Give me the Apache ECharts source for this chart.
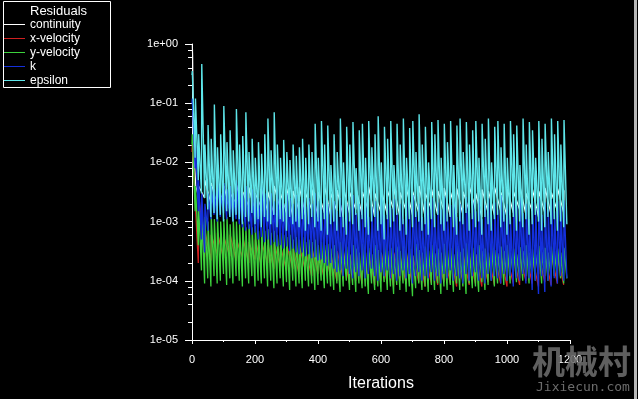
<!DOCTYPE html>
<html>
<head>
<meta charset="utf-8">
<script src="https://cdn.jsdelivr.net/npm/echarts@6/dist/echarts.min.js"></script>
<style>
html,body{margin:0;padding:0;background:#000;}
#c{width:638px;height:399px;}
</style>
</head>
<body>
<div id="c"></div>
<script>
// ---- data ----
const seriesNames = ['continuity', 'x-velocity', 'y-velocity', 'k', 'epsilon'];
const xTicks = [0, 200, 400, 600, 800, 1000, 1200];
const yMinorTicks = [8e-1,6e-1,4e-1,2e-1, 8e-2,6e-2,4e-2,2e-2, 8e-3,6e-3,4e-3,2e-3, 8e-4,6e-4,4e-4,2e-4, 8e-5,6e-5,4e-5,2e-5];

// spike trains: trough at iteration period*i, peak at period*i+1
const epsPeriod = 10;
const epsHigh = [0.35,0.12,0.03,0.46,0.02,0.043,0.025,0.095,0.018,0.03,
0.09,0.022,0.035,0.016,0.08,0.02,0.028,0.07,0.015,0.025,
0.012,0.022,0.014,0.03,0.055,0.016,0.07,0.02,0.012,0.024,
0.015,0.011,0.02,0.013,0.018,0.025,0.012,0.02,0.015,
0.045,0.012,0.05,0.02,0.042,0.009,0.03,0.015,0.055,0.01,0.04,
0.02,0.048,0.008,0.035,0.045,0.012,0.05,0.018,0.03,0.06,
0.01,0.04,0.025,0.05,0.009,0.045,0.02,0.055,0.012,0.038,
0.05,0.015,0.065,0.02,0.04,0.01,0.048,0.03,0.052,0.012,
0.045,0.022,0.05,0.009,0.042,0.055,0.015,0.048,0.02,0.035,
0.05,0.012,0.045,0.025,0.055,0.01,0.04,0.05,0.018,0.045,
0.012,0.05,0.03,0.042,0.009,0.055,0.02,0.048,0.035,0.012,
0.05,0.025,0.045,0.015,0.055,0.03,0.05,0.02,0.052];
const epsLow = [0.3,0.012,0.005,0.003,0.0025,
1.6e-3,1.2e-3,1.4e-3,1.1e-3,1.3e-3,1.0e-3,1.5e-3,1.2e-3,1.0e-3,1.3e-3,
1.1e-3,9e-4,1.2e-3,1.0e-3,1.4e-3,9e-4,1.1e-3,8e-4,1.2e-3,1.0e-3,
9e-4,1.3e-3,8e-4,1.1e-3,1.0e-3,7e-4,1.2e-3,9e-4,1.0e-3,8e-4,
1.1e-3,7e-4,9e-4,1.2e-3,8e-4,1.0e-3,7e-4,1.1e-3,6e-4,9e-4,
1.0e-3,7e-4,1.2e-3,8e-4,6e-4,1.0e-3,9e-4,1.3e-3,7e-4,1.1e-3,
8e-4,6e-4,1.0e-3,1.2e-3,7e-4,9e-4,5e-4,1.1e-3,8e-4,1.0e-3,
1.3e-3,7e-4,9e-4,6e-4,1.1e-3,8e-4,1.2e-3,1.0e-3,7e-4,9e-4,
6e-4,1.1e-3,8e-4,1.3e-3,9e-4,7e-4,1.0e-3,1.2e-3,8e-4,6e-4,
1.0e-3,9e-4,1.4e-3,7e-4,1.1e-3,8e-4,1.0e-3,6e-4,1.2e-3,9e-4,
7e-4,1.1e-3,1.3e-3,8e-4,1.0e-3,6e-4,9e-4,1.2e-3,7e-4,1.0e-3,
8e-4,1.1e-3,6e-4,9e-4,1.3e-3,1.0e-3,7e-4,8e-4,1.2e-3,9e-4,
1.1e-3,7e-4,1.0e-3,8e-4,9e-4];

const kPeriod = 10;
const kHigh = [0.12,0.02,5e-3,3e-3,2e-3,
3e-3,4e-3,3.5e-3,5e-3,3e-3,4.5e-3,3.5e-3,4e-3,3e-3,5e-3,
3.5e-3,3e-3,4e-3,2.5e-3,3.5e-3,3e-3,2.5e-3,4e-3,3e-3,2.5e-3,
3e-3,2.2e-3,3.5e-3,2.5e-3,2e-3,3e-3,2.5e-3,2e-3,2.8e-3,2.2e-3,
2.5e-3,1.8e-3,2.5e-3,2e-3,3e-3,2.2e-3,1.8e-3,2.5e-3,2e-3,1.6e-3,
2.2e-3,1.5e-3,2.5e-3,1.2e-3,2e-3,1.8e-3,2.8e-3,1.4e-3,2e-3,1.6e-3,
2.5e-3,1.2e-3,1.8e-3,2.2e-3,1.5e-3,2.6e-3,1.3e-3,2e-3,1.7e-3,2.4e-3,
1.4e-3,2e-3,1.1e-3,2.3e-3,1.6e-3,2.8e-3,1.5e-3,2e-3,1.2e-3,2.2e-3,
1.8e-3,2.5e-3,1.3e-3,2.1e-3,1.6e-3,2.7e-3,1.4e-3,1.9e-3,2.3e-3,1.2e-3,
2e-3,1.7e-3,2.6e-3,1.4e-3,2.2e-3,1.5e-3,2.4e-3,1.1e-3,1.9e-3,2.5e-3,
1.3e-3,2.1e-3,1.6e-3,2.8e-3,1.5e-3,2e-3,1.2e-3,2.3e-3,1.8e-3,2.6e-3,
1.4e-3,2e-3,1.1e-3,2.2e-3,1.7e-3,2.5e-3,1.3e-3,2.1e-3,1.6e-3,2.4e-3,
1.5e-3,2.2e-3,1.8e-3,2.3e-3];
const kLow = [0.1,0.008,1.5e-3,5e-4,3e-4,7e-4,
1.1e-3,1.3e-3,1.0e-3,1.2e-3,1.4e-3,1.1e-3,1.2e-3,1.0e-3,1.1e-3,9e-4,
8e-4,7e-4,7.5e-4,6e-4,6.5e-4,5e-4,5.5e-4,4.5e-4,5e-4,4e-4,
4.5e-4,3.8e-4,4e-4,3.5e-4,3.8e-4,3.2e-4,3.5e-4,3e-4,2.8e-4,3e-4,
2.6e-4,2.8e-4,2.4e-4,2.5e-4,2.2e-4,2.3e-4,2e-4,1.8e-4,2e-4,1.6e-4,
1.4e-4,1.5e-4,1.2e-4,1.6e-4,1.3e-4,1.1e-4,1.4e-4,1.2e-4,1.5e-4,1.1e-4,
1.3e-4,1.6e-4,1.2e-4,1.0e-4,1.4e-4,1.2e-4,1.5e-4,1.1e-4,1.3e-4,1.0e-4,
1.2e-4,1.5e-4,1.1e-4,1.3e-4,9e-5,1.2e-4,1.4e-4,1.0e-4,1.2e-4,1.1e-4,
1.4e-4,1.0e-4,1.2e-4,9e-5,1.3e-4,1.1e-4,1.5e-4,1.0e-4,1.2e-4,1.1e-4,
9e-5,1.3e-4,1.0e-4,1.2e-4,1.4e-4,1.0e-4,1.1e-4,9e-5,1.3e-4,1.0e-4,
1.2e-4,1.1e-4,9e-5,1.3e-4,1.0e-4,1.2e-4,8e-5,1.1e-4,1.0e-4,1.3e-4,
9e-5,1.1e-4,7e-5,1.0e-4,6e-5,1.2e-4,6.5e-5,1.0e-4,8e-5,1.1e-4,
9e-5,1.2e-4,1.0e-4,1.1e-4];

const yvPeriod = 10;
const yvHigh = [0.03,4e-3,2e-3,1.5e-3,
1.2e-3,1.0e-3,1.3e-3,1.1e-3,1.2e-3,1.0e-3,1.1e-3,1.2e-3,9e-4,1.1e-3,
1.0e-3,9e-4,1.0e-3,8e-4,9e-4,8e-4,8.5e-4,7e-4,8e-4,7e-4,
7.5e-4,6.5e-4,7e-4,6e-4,6.5e-4,6e-4,5.5e-4,6e-4,5e-4,5.5e-4,
5e-4,5.5e-4,4.5e-4,5e-4,4.5e-4,5e-4,4e-4,4.5e-4,4e-4,4.2e-4,
3.5e-4,4e-4,3e-4,4.5e-4,3.2e-4,3.8e-4,2.8e-4,4e-4,3.5e-4,3e-4,
4.2e-4,3e-4,3.6e-4,2.8e-4,4e-4,3.3e-4,3e-4,4.5e-4,3.2e-4,3.6e-4,
2.8e-4,3.8e-4,3.2e-4,4e-4,3e-4,3.5e-4,2.7e-4,4.2e-4,3.3e-4,3e-4,
3.8e-4,3.2e-4,4e-4,2.9e-4,3.5e-4,3e-4,4.2e-4,3.3e-4,3.6e-4,2.8e-4,
3.9e-4,3.1e-4,3.5e-4,4.3e-4,3e-4,3.6e-4,2.8e-4,4e-4,3.2e-4,3.5e-4,
3e-4,4.1e-4,3.3e-4,2.9e-4,3.8e-4,3.2e-4,4e-4,3e-4,3.5e-4,2.8e-4,
3.7e-4,3.2e-4,4e-4,3e-4,3.4e-4,2.8e-4,3.9e-4,3.1e-4,3.6e-4,3e-4,
3.8e-4,3.2e-4,3.5e-4,3e-4,3.6e-4];
const yvLow = [0.02,1.5e-3,4e-4,1.5e-4,9e-5,
1.1e-4,8e-5,1.2e-4,9e-5,1.0e-4,1.3e-4,8.5e-5,1.1e-4,9e-5,1.2e-4,
1.0e-4,8e-5,1.1e-4,9e-5,1.2e-4,8e-5,1.0e-4,9e-5,1.1e-4,8e-5,
1.0e-4,7.5e-5,9e-5,1.1e-4,8e-5,9.5e-5,7e-5,1.0e-4,8e-5,9e-5,
7.5e-5,1.0e-4,8e-5,9e-5,7e-5,8.5e-5,1.0e-4,7.5e-5,9e-5,8e-5,
7e-5,9e-5,6.5e-5,8e-5,1.0e-4,7e-5,8.5e-5,6.5e-5,9e-5,7.5e-5,
8e-5,6e-5,9e-5,7e-5,8e-5,6.5e-5,9.5e-5,7e-5,8e-5,6e-5,
8.5e-5,7e-5,9e-5,6.5e-5,8e-5,5.5e-5,7.5e-5,9e-5,7e-5,8e-5,
6.5e-5,8.5e-5,7e-5,9e-5,6e-5,8e-5,7e-5,8.5e-5,6.5e-5,9e-5,
7e-5,8e-5,6e-5,9e-5,7.5e-5,8e-5,6.5e-5,9.5e-5,7e-5,8.5e-5,
1.0e-4,8e-5,9e-5,1.1e-4,8.5e-5,1.0e-4,9e-5,1.2e-4,9.5e-5,1.1e-4,
1.0e-4,1.2e-4,9e-5,1.1e-4,1.0e-4,1.3e-4,9e-5,1.2e-4,1.0e-4,1.1e-4,
1.2e-4,1.0e-4,1.1e-4,9e-5,1.1e-4];

const xvPeriod = 20;
const xvHigh = [0.02,3e-3,
7e-4,6e-4,6.5e-4,5.5e-4,6e-4,5e-4,5.5e-4,4.5e-4,5e-4,
4.5e-4,4e-4,4.2e-4,3.8e-4,4e-4,3.5e-4,3.8e-4,3.2e-4,3.5e-4,3e-4,
3.3e-4,2.8e-4,3.2e-4,3e-4,2.7e-4,3.1e-4,2.8e-4,3e-4,2.6e-4,2.9e-4,
2.7e-4,3e-4,2.5e-4,2.8e-4,2.6e-4,2.9e-4,2.5e-4,2.7e-4,2.4e-4,2.8e-4,
2.6e-4,2.4e-4,2.7e-4,2.5e-4,2.8e-4,2.4e-4,2.6e-4,2.5e-4,2.7e-4,2.4e-4,
2.6e-4,2.5e-4,2.8e-4,2.4e-4,2.6e-4,2.5e-4,2.7e-4,2.5e-4];
const xvLow = [0.015,2e-4,
2.5e-4,2.2e-4,2.8e-4,2.4e-4,2.6e-4,2.2e-4,2.5e-4,2e-4,2.3e-4,
1.8e-4,2e-4,1.6e-4,1.8e-4,1.5e-4,1.6e-4,1.3e-4,1.5e-4,1.2e-4,1.3e-4,
1.1e-4,1.2e-4,1.0e-4,1.1e-4,9e-5,1.0e-4,9e-5,1.1e-4,8.5e-5,1.0e-4,
9e-5,8e-5,1.0e-4,9e-5,8.5e-5,9.5e-5,8e-5,9e-5,8.5e-5,9.5e-5,
9e-5,8e-5,1.0e-4,8.5e-5,9e-5,8e-5,9.5e-5,8.5e-5,9e-5,8e-5,
9e-5,8.5e-5,1.0e-4,9e-5,8e-5,9.5e-5,8.5e-5,9e-5,8.5e-5];

// continuity: initial drop, then spike train (period 20, starting at iteration 20)
const contHeadIter = [1, 2, 3, 5, 8, 12];
const contHeadVal = [1.0, 0.62, 0.2, 0.04, 0.01, 4e-3];
const contPeriod = 20;
const contLow = [2.7e-3,2.5e-3,2e-3,1.8e-3,2.2e-3,1.6e-3,2e-3,1.5e-3,1.8e-3,1.4e-3,
1.7e-3,1.5e-3,1.3e-3,1.6e-3,1.4e-3,1.2e-3,1.5e-3,1.3e-3,1.6e-3,1.2e-3,
1.4e-3,1.3e-3,1.5e-3,1.2e-3,1.4e-3,1.6e-3,1.3e-3,1.5e-3,1.2e-3,1.4e-3,
1.3e-3,1.6e-3,1.2e-3,1.5e-3,1.3e-3,1.4e-3,1.2e-3,1.6e-3,1.3e-3,1.5e-3,
1.2e-3,1.4e-3,1.3e-3,1.5e-3,1.6e-3,1.2e-3,1.4e-3,1.3e-3,1.5e-3,1.2e-3,
1.4e-3,1.6e-3,1.3e-3,1.5e-3,1.2e-3,1.4e-3,1.3e-3,1.5e-3,1.4e-3];
const contHigh = [4e-3,5e-3,4.5e-3,3.5e-3,4e-3,3e-3,4.2e-3,3.2e-3,3.8e-3,3e-3,
3.5e-3,3.2e-3,4e-3,3e-3,3.6e-3,3.3e-3,3.8e-3,3e-3,3.5e-3,3.2e-3,
4e-3,3e-3,3.4e-3,3.7e-3,3.1e-3,3.6e-3,3.2e-3,3.9e-3,3e-3,3.5e-3,
3.3e-3,3.8e-3,3.1e-3,3.6e-3,3.2e-3,4e-3,3e-3,3.5e-3,3.3e-3,3.7e-3,
3.1e-3,3.6e-3,3.2e-3,3.9e-3,3e-3,3.5e-3,3.3e-3,3.8e-3,3.1e-3,3.6e-3,
3.2e-3,4e-3,3e-3,3.5e-3,3.3e-3,3.7e-3,3.1e-3,3.6e-3,3.4e-3];

const colors = ['#ffffff', '#d02020', '#3cd23c', '#1430dc', '#5ee6ea'];
const widths = [1.2, 1.3, 1.3, 1.4, 1.4];
// ---- build ----
function spikes(lows, highs, period, offset) {
  const d = [];
  const n = Math.min(lows.length, highs.length);
  for (let i = 0; i < n; i++) {
    d.push([offset + i * period, lows[i]]);
    d.push([offset + i * period + 1, highs[i]]);
  }
  if (lows.length > n) d.push([offset + n * period, lows[n]]);
  return d;
}
const contData = contHeadIter.map((it, i) => [it, contHeadVal[i]]).concat(spikes(contLow, contHigh, contPeriod, contPeriod));
const seriesData = [
  contData,
  spikes(xvLow, xvHigh, xvPeriod, 0),
  spikes(yvLow, yvHigh, yvPeriod, 0),
  spikes(kLow, kHigh, kPeriod, 0),
  spikes(epsLow, epsHigh, epsPeriod, 0)
];

const FONT = '"Liberation Sans", Arial, sans-serif';
function fmtExp(v) {
  const e = Math.round(Math.log10(v));
  return '1e' + (e < 0 ? '-' : '+') + String(Math.abs(e)).padStart(2, '0');
}

const chart = echarts.init(document.getElementById('c'), null, {renderer: 'canvas'});
const lineSeries = seriesNames.map((name, i) => ({
  name: name,
  type: 'line',
  data: seriesData[i],
  showSymbol: false,
  symbol: 'none',
  color: colors[i],
  lineStyle: {width: widths[i], color: colors[i]},
  animation: false,
  silent: true
}));
lineSeries.push({
  type: 'custom',
  name: 'minorTicks',
  data: yMinorTicks.map(v => [0, v]),
  clip: false,
  silent: true,
  animation: false,
  renderItem: function (params, api) {
    const p = api.coord([api.value(0), api.value(1)]);
    return {type: 'line', shape: {x1: p[0] - 4, y1: Math.round(p[1]) + 0.5, x2: p[0], y2: Math.round(p[1]) + 0.5},
      style: {stroke: '#ffffff', lineWidth: 1}};
  }
});

chart.setOption({
  backgroundColor: '#000000',
  animation: false,
  grid: {left: 192, right: 68, top: 44, bottom: 59, containLabel: false},
  legend: {
    data: seriesNames,
    orient: 'vertical',
    left: 3, top: 18,
    icon: 'rect',
    itemWidth: 22, itemHeight: 1,
    itemGap: 1,
    padding: 0,
    selectedMode: false,
    textStyle: {color: '#ffffff', fontSize: 12, fontFamily: FONT, lineHeight: 13}
  },
  xAxis: {
    type: 'value', min: 0, max: 1200, interval: 200,
    name: 'Iterations', nameLocation: 'middle', nameGap: 36,
    nameTextStyle: {color: '#ffffff', fontSize: 16, fontFamily: FONT},
    axisLine: {show: true, onZero: false, lineStyle: {color: '#ffffff', width: 1}},
    axisTick: {show: true, length: 4, lineStyle: {color: '#ffffff'}},
    minorTick: {show: true, splitNumber: 2, length: 2, lineStyle: {color: '#ffffff'}},
    splitLine: {show: false},
    axisLabel: {color: '#ffffff', fontSize: 11, fontFamily: FONT, margin: 14,
      formatter: v => (xTicks.indexOf(v) >= 0 ? String(v) : '')}
  },
  yAxis: {
    type: 'log', logBase: 10, min: 1e-5, max: 1, splitNumber: 5,
    axisLine: {show: true, lineStyle: {color: '#ffffff', width: 1}},
    axisTick: {show: true, length: 7, lineStyle: {color: '#ffffff'}},
    minorTick: {show: false},
    splitLine: {show: false},
    axisLabel: {color: '#ffffff', fontSize: 11, fontFamily: FONT, margin: 14, formatter: fmtExp}
  },
  graphic: [
    {type: 'rect', shape: {x: 3.5, y: 1.5, width: 107, height: 86}, style: {fill: 'none', stroke: '#ffffff', lineWidth: 1}, silent: true, z: 100},
    {type: 'text', x: 30, y: 5, style: {text: 'Residuals', fill: '#ffffff', font: '13px ' + FONT}, silent: true, z: 100},
    {type: 'rect', shape: {x: 634, y: 0, width: 3, height: 399}, style: {fill: '#b8b8b8'}, silent: true, z: 100},
    {type: 'text', x: 532, y: 345, style: {text: '机械村', fill: 'rgba(105,105,105,0.9)', font: 'bold 33px "Noto Sans CJK SC"'}, silent: true, z: 100},
    {type: 'text', x: 536, y: 381, style: {text: 'Jixiecun.com', fill: 'rgba(120,120,120,0.9)', font: '13px "DejaVu Sans Mono"'}, silent: true, z: 100}
  ],
  series: lineSeries
});
</script>
</body>
</html>
